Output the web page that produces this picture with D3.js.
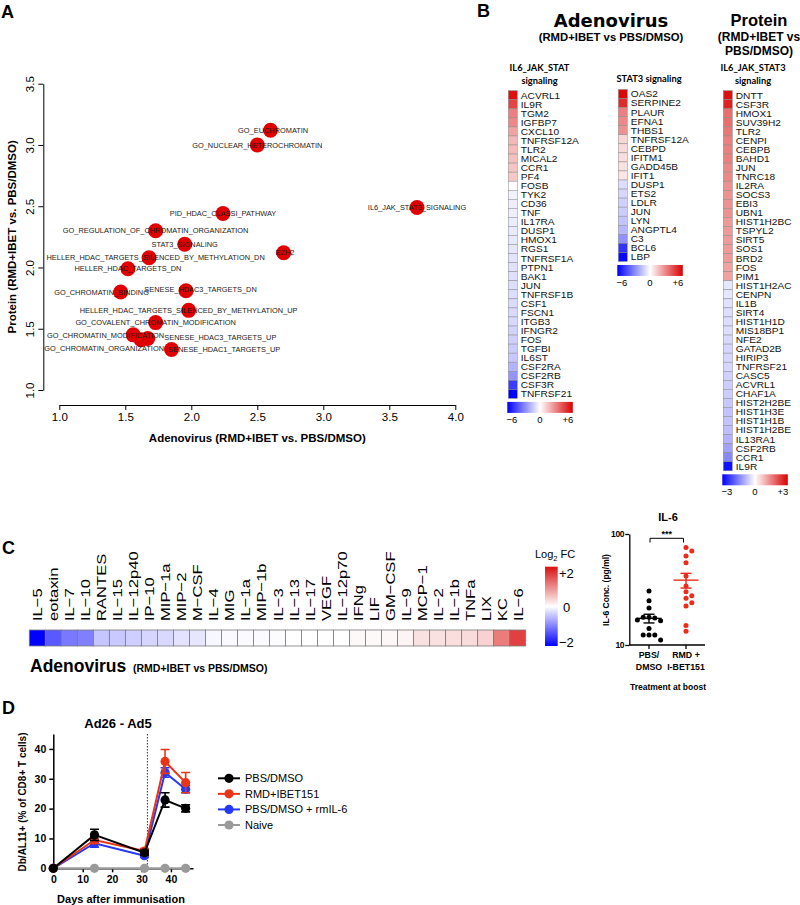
<!doctype html>
<meta charset="utf-8">
<style>
  body { margin: 0; background: #fff; }
</style>
<body>
<div id="chart"></div>

<script src="https://cdn.jsdelivr.net/npm/d3@7"></script>
<script>

// ---------- A: gene set scatter ----------
const setNames = ["GO_EUCHROMATIN", "GO_NUCLEAR_HETEROCHROMATIN", "PID_HDAC_CLASSI_PATHWAY", "IL6_JAK_STAT3_SIGNALING",
  "GO_REGULATION_OF_CHROMATIN_ORGANIZATION", "STAT3_SIGNALING", "EZH2", "HELLER_HDAC_TARGETS_SILENCED_BY_METHYLATION_DN",
  "HELLER_HDAC_TARGETS_DN", "GO_CHROMATIN_BINDING", "SENESE_HDAC3_TARGETS_DN", "HELLER_HDAC_TARGETS_SILENCED_BY_METHYLATION_UP",
  "GO_COVALENT_CHROMATIN_MODIFICATION", "GO_CHROMATIN_MODIFICATION", "SENESE_HDAC3_TARGETS_UP", "GO_CHROMATIN_ORGANIZATION",
  "SENESE_HDAC1_TARGETS_UP"]
const setAdeno = [2.60, 2.50, 2.24, 3.71, 1.73, 1.95, 2.70, 1.68, 1.52, 1.465, 1.96, 1.98, 1.73, 1.56, 1.62, 1.67, 1.85]
const setProtein = [3.12, 3.00, 2.44, 2.49, 2.30, 2.19, 2.12, 2.08, 1.99, 1.80, 1.81, 1.65, 1.55, 1.45, 1.41, 1.42, 1.33]
// where each label text sits (data units)
const labelAdeno = [2.62, 2.50, 2.24, 3.71, 1.73, 1.95, 2.71, 1.73, 1.52, 1.32, 2.07, 1.98, 1.73, 1.35, 2.22, 1.34, 2.25]
const labelProtein = [3.12, 3.00, 2.44, 2.49, 2.30, 2.19, 2.12, 2.08, 1.99, 1.80, 1.82, 1.65, 1.55, 1.45, 1.43, 1.34, 1.33]
const aTicksX = [1.0, 1.5, 2.0, 2.5, 3.0, 3.5, 4.0]
const aTicksY = [1.0, 1.5, 2.0, 2.5, 3.0, 3.5]

// ---------- B: heatmaps ----------
const il6Genes = ["ACVRL1", "IL9R", "TGM2", "IGFBP7", "CXCL10", "TNFRSF12A", "TLR2", "MICAL2", "CCR1", "PF4", "FOSB", "TYK2",
  "CD36", "TNF", "IL17RA", "DUSP1", "HMOX1", "RGS1", "TNFRSF1A", "PTPN1", "BAK1", "JUN", "TNFRSF1B", "CSF1", "FSCN1", "ITGB3",
  "IFNGR2", "FOS", "TGFBI", "IL6ST", "CSF2RA", "CSF2RB", "CSF3R", "TNFRSF21"]
const il6Values = [5.6, 4.4, 3.0, 2.8, 2.2, 1.7, 1.6, 1.5, 1.4, 1.3, 0.05, -0.3, -0.4, -0.4, -0.45, -0.5, -0.55, -0.6, -0.65, -0.7,
  -0.75, -0.8, -0.8, -0.85, -0.9, -0.95, -1.05, -1.15, -1.25, -1.3, -1.8, -2.5, -4.6, -6.0]

const stat3Genes = ["OAS2", "SERPINE2", "PLAUR", "EFNA1", "THBS1", "TNFRSF12A", "CEBPD", "IFITM1", "GADD45B", "IFIT1", "DUSP1",
  "ETS2", "LDLR", "JUN", "LYN", "ANGPTL4", "C3", "BCL6", "LBP"]
const stat3Values = [5.8, 5.0, 3.0, 2.8, 2.6, 1.0, 0.9, 0.8, 0.7, 0.6, -0.8, -1.0, -1.1, -1.2, -1.4, -1.7, -2.6, -4.8, -5.8]

const protGenes = ["DNTT", "CSF3R", "HMOX1", "SUV39H2", "TLR2", "CENPI", "CEBPB", "BAHD1", "JUN", "TNRC18", "IL2RA", "SOCS3",
  "EBI3", "UBN1", "HIST1H2BC", "TSPYL2", "SIRT5", "SOS1", "BRD2", "FOS", "PIM1", "HIST1H2AC", "CENPN", "IL1B", "SIRT4",
  "HIST1H1D", "MIS18BP1", "NFE2", "GATAD2B", "HIRIP3", "TNFRSF21", "CASC5", "ACVRL1", "CHAF1A", "HIST2H2BE", "HIST1H3E",
  "HIST1H1B", "HIST1H2BE", "IL13RA1", "CSF2RB", "CCR1", "IL9R"]
const protValues = [2.8, 2.6, 1.7, 1.7, 1.6, 1.5, 1.5, 1.5, 1.4, 1.4, 1.3, 1.3, 1.3, 1.3, 1.2, 1.2, 1.2, 1.2, 1.2, 1.1, 1.1,
  -0.3, -0.3, -0.35, -0.4, -0.4, -0.4, -0.45, -0.5, -0.5, -0.5, -0.55, -0.6, -0.6, -0.65, -0.7, -0.7, -0.75, -0.9, -1.1, -1.4, -2.8]

// ---------- C: cytokines ----------
const cytokines = ["IL−5", "eotaxin", "IL−7", "IL−10", "RANTES", "IL−15", "IL−12p40", "IP−10", "MIP−1a", "MIP−2", "M−CSF",
  "IL−4", "MIG", "IL−1a", "MIP−1b", "IL−3", "IL−13", "IL−17", "VEGF", "IL−12p70", "IFNg", "LIF", "GM−CSF", "IL−9", "MCP−1",
  "IL−2", "IL−1b", "TNFa", "LIX", "KC", "IL−6"]
const cytokineFC = [-2.0, -1.3, -1.05, -1.0, -0.45, -0.42, -0.38, -0.33, -0.3, -0.22, -0.2, -0.06, -0.05, -0.04, -0.03, -0.02,
  0, 0, 0, 0, 0.05, 0.05, 0.07, 0.08, 0.25, 0.25, 0.28, 0.3, 0.38, 1.1, 1.6]

const il6Groups = ["PBS/DMSO", "RMD+I-BET151"]
const il6Pbs = [30.6, 25.1, 21.5, 17.8, 17.5, 17.8, 16.5, 16.8, 14.1, 12.3, 12.3, 12.3, 11.1]
const il6Rmd = [75.4, 70.3, 63.4, 55.1, 41.9, 34.0, 30.2, 27.8, 26.4, 24.0, 22.4, 15.0, 13.3]

// ---------- D: time course ----------
const days = [0, 14, 31, 38, 45]
const boostDay = 32
const seriesNames = ["PBS/DMSO", "RMD+IBET151", "PBS/DMSO + rmIL-6", "Naive"]
const pbsMean = [0, 11.2, 5.2, 22.9, 20.1]
const pbsSem = [0, 1.9, 0.8, 2.4, 1.2]
const rmdMean = [0, 9.5, 5.8, 35.8, 28.7]
const rmdSem = [0, 1.2, 0.8, 4.0, 3.4]
const rmilMean = [0, 8.4, 4.2, 32.1, 26.5]
const rmilSem = [0, 1.3, 0.6, 1.6, 1.2]
const naiveMean = [0, 0, 0, 0, 0]
const naiveSem = [0, 0, 0, 0, 0]

const FONT = '"Liberation Sans", Arial, Helvetica, sans-serif'

const svg = d3.select("#chart").append("svg")
  .attr("width", 800)
  .attr("height", 905)
  .style("font-family", FONT)

function letter(t, x, y) {
  svg.append("text").attr("x", x).attr("y", y).attr("font-size", 18).attr("font-weight", "bold").text(t)
}

function cleanAxis(g, size) {
  g.attr("font-family", null).attr("font-size", size)
}

// ================= A =================
function panelA() {
  const g = svg.append("g")
  const x = d3.scaleLinear().domain([1, 4]).range([59.3, 455.3])
  const y = d3.scaleLinear().domain([1, 3.5]).range([390, 83.7])

  g.append("g")
    .attr("transform", "translate(0,405)")
    .call(d3.axisBottom(x).tickValues(aTicksX).tickFormat(d3.format(".1f")).tickSize(5).tickSizeOuter(0))
    .call(a => cleanAxis(a, 11.5))
    .call(a => a.selectAll("text").attr("y", 8))

  const yAxis = g.append("g")
    .attr("transform", "translate(43.3,0)")
    .call(d3.axisLeft(y).tickValues(aTicksY).tickFormat("").tickSize(5).tickSizeOuter(0))
  yAxis.selectAll(".tick").append("text")
    .attr("transform", "rotate(-90)")
    .attr("y", -9)
    .attr("fill", "#000")
    .attr("text-anchor", "middle")
    .attr("font-size", 11.5)
    .text(d => d3.format(".1f")(d))

  g.append("text")
    .attr("x", (x(1) + x(4)) / 2).attr("y", 442)
    .attr("text-anchor", "middle").attr("font-size", 11.5).attr("font-weight", "bold")
    .text("Adenovirus (RMD+IBET vs. PBS/DMSO)")
  g.append("text")
    .attr("transform", `translate(16,${(y(1) + y(3.5)) / 2}) rotate(-90)`)
    .attr("text-anchor", "middle").attr("font-size", 11.5).attr("font-weight", "bold")
    .text("Protein (RMD+IBET vs. PBS/DMSO)")

  g.selectAll("circle.gs")
    .data(setNames)
    .join("circle")
    .attr("class", "gs")
    .attr("cx", (d, i) => x(setAdeno[i]))
    .attr("cy", (d, i) => y(setProtein[i]))
    .attr("r", 7.5)
    .attr("fill", "#e10000")

  g.selectAll("text.gs")
    .data(setNames)
    .join("text")
    .attr("class", "gs")
    .attr("x", (d, i) => x(labelAdeno[i]))
    .attr("y", (d, i) => y(labelProtein[i]))
    .attr("dy", "0.36em")
    .attr("text-anchor", "middle")
    .attr("font-size", 7.4)
    .attr("fill", "#1a1a1a")
    .text(d => d)
}

// ================= B =================
const defs = svg.append("defs")
let gradId = 0

function gradient(color, lo, hi, vertical) {
  const id = "grad" + (gradId++)
  const lg = defs.append("linearGradient").attr("id", id)
  if (vertical) lg.attr("x1", 0).attr("y1", 1).attr("x2", 0).attr("y2", 0)
  d3.range(0, 1.0001, 0.05).forEach(t => {
    lg.append("stop").attr("offset", t).attr("stop-color", color(lo + t * (hi - lo)))
  })
  return id
}

function heatColumn(genes, values, limit, x0, y0, header) {
  const g = svg.append("g")
  const color = d3.scaleLinear().domain([-limit, 0, limit]).range(["#0000ff", "#ffffff", "#d80000"])
  const rowH = 9.05
  const y = d3.scaleBand().domain(d3.range(genes.length)).range([y0, y0 + rowH * genes.length])

  g.selectAll("rect")
    .data(genes)
    .join("rect")
    .attr("x", x0)
    .attr("y", (d, i) => y(i))
    .attr("width", 9)
    .attr("height", y.bandwidth())
    .attr("fill", (d, i) => color(values[i]))
    .attr("stroke", "#8c8c8c")
    .attr("stroke-width", 0.5)

  g.selectAll("text.gene")
    .data(genes)
    .join("text")
    .attr("class", "gene")
    .attr("transform", (d, i) => `translate(${x0 + 12.5},${y(i) + y.bandwidth() / 2}) scale(1.08,1)`)
    .attr("dy", "0.36em")
    .attr("font-size", 9.4)
    .attr("fill", "#111")
    .text(d => d)

  header.forEach((h, i) => {
    g.append("text")
      .attr("x", h.x).attr("y", y0 - 19.5 + i * 12.3)
      .attr("text-anchor", "middle")
      .attr("font-family", "Lato, 'Open Sans', sans-serif")
      .attr("font-weight", "bold")
      .attr("font-size", 9.3)
      .text(h.t)
  })

  // colour key
  const ky = y0 + rowH * genes.length + 3.5
  const id = gradient(color, -limit, limit, false)
  g.append("rect").attr("x", x0 - 1).attr("y", ky).attr("width", 65.5).attr("height", 11)
    .attr("fill", `url(#${id})`)
  const k = d3.scaleLinear().domain([-limit, limit]).range([x0 + 3.5, x0 + 59.5])
  g.selectAll("text.key")
    .data([-limit, 0, limit])
    .join("text")
    .attr("class", "key")
    .attr("x", d => k(d))
    .attr("y", ky + 21)
    .attr("text-anchor", "middle")
    .attr("font-size", 9.5)
    .text(d => d < 0 ? "−" + (-d) : d > 0 ? "+" + d : "0")
}

function panelB() {
  svg.append("text").attr("x", 611).attr("y", 27).attr("text-anchor", "middle")
    .attr("font-family", "'DejaVu Sans', Verdana, sans-serif")
    .attr("font-weight", "bold").attr("font-size", 18).text("Adenovirus")
  svg.append("text").attr("x", 611).attr("y", 41).attr("text-anchor", "middle")
    .attr("font-weight", "bold").attr("font-size", 11.3).text("(RMD+IBET vs PBS/DMSO)")

  svg.append("text").attr("x", 759).attr("y", 26).attr("text-anchor", "middle")
    .attr("font-weight", "bold").attr("font-size", 16.5).text("Protein")
  svg.append("text").attr("x", 759).attr("y", 41).attr("text-anchor", "middle")
    .attr("font-weight", "bold").attr("font-size", 12).text("(RMD+IBET  vs")
  svg.append("text").attr("x", 759).attr("y", 55).attr("text-anchor", "middle")
    .attr("font-weight", "bold").attr("font-size", 12).text("PBS/DMSO)")

  heatColumn(il6Genes, il6Values, 6, 508.3, 90.7, [{ t: "IL6_JAK_STAT", x: 539.5 }, { t: "signaling", x: 539.5 }])
  heatColumn(stat3Genes, stat3Values, 6, 618.3, 89.5, [{ t: "", x: 650 }, { t: "STAT3 signaling", x: 649 }])
  heatColumn(protGenes, protValues, 3, 723.3, 90.7, [{ t: "IL6_JAK_STAT3", x: 753 }, { t: "signaling", x: 753 }])
}

// ================= C =================
function panelC() {
  const g = svg.append("g")
  const color = d3.scaleLinear().domain([-2, 0, 2]).range(["#0000ff", "#ffffff", "#d81010"])
  const x = d3.scaleBand().domain(d3.range(cytokines.length)).range([29.3, 525.7])

  g.selectAll("rect")
    .data(cytokines)
    .join("rect")
    .attr("x", (d, i) => x(i))
    .attr("y", 630)
    .attr("width", x.bandwidth())
    .attr("height", 16)
    .attr("fill", (d, i) => color(cytokineFC[i]))
    .attr("stroke", "#7a7a7a")
    .attr("stroke-width", 0.8)

  g.selectAll("text.cyt")
    .data(cytokines)
    .join("text")
    .attr("class", "cyt")
    .attr("transform", (d, i) => `translate(${x(i) + x.bandwidth() / 2 + 5},621) rotate(-90) scale(1.22,1)`)
    .attr("font-size", 13.6)
    .text(d => d)

  g.append("text").attr("x", 30).attr("y", 672).attr("font-weight", "bold").attr("font-size", 17.5).text("Adenovirus")
  g.append("text").attr("x", 133).attr("y", 672).attr("font-weight", "bold").attr("font-size", 10.5).text("(RMD+IBET vs PBS/DMSO)")

  // key
  const id = gradient(color, -2, 2, true)
  g.append("rect").attr("x", 545).attr("y", 566.7).attr("width", 12.7).attr("height", 79.3).attr("fill", `url(#${id})`)
  const k = d3.scaleLinear().domain([-2, 2]).range([642, 573])
  g.selectAll("text.key")
    .data([2, 0, -2])
    .join("text")
    .attr("class", "key")
    .attr("x", 559)
    .attr("y", d => k(d))
    .attr("dy", "0.36em")
    .attr("font-size", 13)
    .text(d => d < 0 ? "−" + (-d) : d > 0 ? "+" + d : "0")
    .attr("dx", d => d === 0 ? 4 : 0)
  const lt = g.append("text").attr("x", 535).attr("y", 558).attr("font-size", 11)
  lt.append("tspan").text("Log")
  lt.append("tspan").attr("font-size", 7.5).attr("dy", 3).text("2")
  lt.append("tspan").attr("dy", -3).text(" FC")
}

// swarm offsets for dot plot
function swarm(values, y, r) {
  const placed = []
  return values.map(v => {
    const py = y(v)
    for (let k = 0; ; k++) {
      const off = (k % 2 ? 1 : -1) * Math.ceil(k / 2) * (2 * r + 0.8)
      if (placed.every(p => Math.hypot(p[0] - off, p[1] - py) >= 2 * r + 0.6)) {
        placed.push([off, py])
        return off
      }
    }
  })
}

function meanSem(v) {
  const m = d3.mean(v)
  return [m, d3.deviation(v) / Math.sqrt(v.length)]
}

function panelIL6() {
  const g = svg.append("g").attr("font-weight", "bold")
  const y = d3.scaleLog().domain([10, 100]).range([645, 534])
  const x = d3.scalePoint().domain(il6Groups).range([649, 686])
  const colors = ["#000000", "#ee2a18"]
  const r = 2.5

  g.append("g").attr("transform", "translate(629.3,0)")
    .call(d3.axisLeft(y).tickValues([10, 100]).tickFormat(d3.format("d")).tickSize(4).tickSizeOuter(0))
    .call(a => cleanAxis(a, 8.5))
    .call(a => a.select(".domain").attr("stroke-width", 1.3))
    .call(a => a.selectAll(".tick line").attr("stroke-width", 1.3))
    .call(a => a.selectAll(".tick text").attr("x", -5).attr("letter-spacing", -0.3))
  g.append("path").attr("d", `M629.3,645H705`).attr("stroke", "#000").attr("stroke-width", 1.3)
  g.selectAll("line.xt").data(il6Groups).join("line").attr("class", "xt")
    .attr("x1", d => x(d)).attr("x2", d => x(d)).attr("y1", 645).attr("y2", 649)
    .attr("stroke", "#000").attr("stroke-width", 1.3)

  const xl = [["PBS/", "DMSO"], ["RMD +", "I-BET151"]]
  il6Groups.forEach((grp, gi) => {
    xl[gi].forEach((t, li) => {
      g.append("text").attr("x", x(grp)).attr("y", 658 + li * 11.5).attr("text-anchor", "middle")
        .attr("font-size", 8.8).text(t)
    })
  })
  g.append("text").attr("x", 668).attr("y", 690).attr("text-anchor", "middle").attr("font-size", 8.5).text("Treatment at boost")
  g.append("text").attr("transform", "translate(609,590) rotate(-90)").attr("text-anchor", "middle")
    .attr("font-size", 8.5).text("IL-6 Conc. (pg/ml)")
  g.append("text").attr("x", 668).attr("y", 521).attr("text-anchor", "middle").attr("font-size", 11).text("IL-6")

  ;[il6Pbs, il6Rmd].forEach((vals, gi) => {
    const cx = x(il6Groups[gi])
    const offs = swarm(vals, y, r)
    g.selectAll(null).data(vals).join("circle")
      .attr("cx", (d, i) => cx + offs[i])
      .attr("cy", d => y(d))
      .attr("r", r)
      .attr("fill", colors[gi])
    const [m, s] = meanSem(vals)
    g.append("line").attr("x1", cx - 12.5).attr("x2", cx + 12.5).attr("y1", y(m)).attr("y2", y(m))
      .attr("stroke", colors[gi]).attr("stroke-width", 1.4)
    g.append("line").attr("x1", cx).attr("x2", cx).attr("y1", y(m - s)).attr("y2", y(m + s))
      .attr("stroke", colors[gi]).attr("stroke-width", 1.4)
    ;[m - s, m + s].forEach(v => {
      g.append("line").attr("x1", cx - 5.5).attr("x2", cx + 5.5).attr("y1", y(v)).attr("y2", y(v))
        .attr("stroke", colors[gi]).attr("stroke-width", 1.4)
    })
  })

  // significance bracket
  const bx0 = x(il6Groups[0]) + 1, bx1 = x(il6Groups[1]) - 2.5
  g.append("path").attr("d", `M${bx0},542.5V538.3H${bx1}V542.5`).attr("fill", "none").attr("stroke", "#000").attr("stroke-width", 1)
  g.append("text").attr("x", (bx0 + bx1) / 2).attr("y", 537).attr("text-anchor", "middle").attr("font-size", 9).text("***")
}

// ================= D =================
function panelD() {
  const g = svg.append("g").attr("font-weight", "bold")
  const x = d3.scaleLinear().domain([0, 47.5]).range([53.3, 193])
  const y = d3.scaleLinear().domain([0, 45]).range([868.3, 734])

  g.append("g").attr("transform", "translate(0,868.3)")
    .call(d3.axisBottom(x).tickValues([0, 10, 20, 30, 40]).tickSize(4).tickSizeOuter(0))
    .call(a => cleanAxis(a, 10.5))
    .call(a => a.selectAll("path,line").attr("stroke-width", 1.5))
  g.append("g").attr("transform", "translate(53.3,0)")
    .call(d3.axisLeft(y).tickValues([0, 10, 20, 30, 40]).tickSize(4).tickSizeOuter(0))
    .call(a => cleanAxis(a, 10.5))
    .call(a => a.selectAll("path,line").attr("stroke-width", 1.5))

  g.append("line").attr("x1", x(boostDay)).attr("x2", x(boostDay)).attr("y1", y(45)).attr("y2", y(0))
    .attr("stroke", "#333").attr("stroke-width", 1).attr("stroke-dasharray", "1.5,1.5")

  g.append("text").attr("x", 118).attr("y", 728).attr("text-anchor", "middle").attr("font-size", 13).text("Ad26 - Ad5")
  g.append("text").attr("x", 121).attr("y", 903).attr("text-anchor", "middle").attr("font-size", 11).text("Days after immunisation")
  g.append("text").attr("transform", "translate(26,802) rotate(-90)").attr("text-anchor", "middle")
    .attr("font-size", 10).text("Db/AL11+ (% of CD8+ T cells)")

  const series = [
    { name: seriesNames[3], mean: naiveMean, sem: naiveSem, color: "#9a9a9a" },
    { name: seriesNames[2], mean: rmilMean, sem: rmilSem, color: "#2438f5" },
    { name: seriesNames[1], mean: rmdMean, sem: rmdSem, color: "#ea3418" },
    { name: seriesNames[0], mean: pbsMean, sem: pbsSem, color: "#000000" }
  ]
  const line = d3.line().x((d, i) => x(days[i])).y(d => y(d))
  series.forEach(s => {
    const sg = g.append("g")
    sg.append("path").attr("d", line(s.mean)).attr("fill", "none").attr("stroke", s.color).attr("stroke-width", 2)
    s.mean.forEach((m, i) => {
      if (!s.sem[i]) return
      const cx = x(days[i])
      sg.append("path")
        .attr("d", `M${cx},${y(m - s.sem[i])}V${y(m + s.sem[i])}M${cx - 4.5},${y(m + s.sem[i])}H${cx + 4.5}M${cx - 4.5},${y(m - s.sem[i])}H${cx + 4.5}`)
        .attr("stroke", s.color).attr("stroke-width", 1.6).attr("fill", "none")
    })
    sg.selectAll("circle").data(s.mean).join("circle")
      .attr("cx", (d, i) => x(days[i])).attr("cy", d => y(d)).attr("r", 4.6).attr("fill", s.color)
  })

  // legend
  const legendColors = ["#000000", "#ea3418", "#2438f5", "#9a9a9a"]
  const ly = d3.scalePoint().domain(seriesNames).range([778.3, 825])
  seriesNames.forEach((n, i) => {
    const yy = ly(n)
    g.append("line").attr("x1", 218).attr("x2", 240).attr("y1", yy).attr("y2", yy)
      .attr("stroke", legendColors[i]).attr("stroke-width", 2)
    g.append("circle").attr("cx", 229).attr("cy", yy).attr("r", 4.6).attr("fill", legendColors[i])
    g.append("text").attr("x", 245).attr("y", yy).attr("dy", "0.36em").attr("font-weight", "normal")
      .attr("font-size", 11).text(n)
  })
}

letter("A", 1, 18)
letter("B", 477, 17)
letter("C", 2, 554)
letter("D", 2, 714)
panelA()
panelB()
panelC()
panelIL6()
panelD()

</script>
</body>
